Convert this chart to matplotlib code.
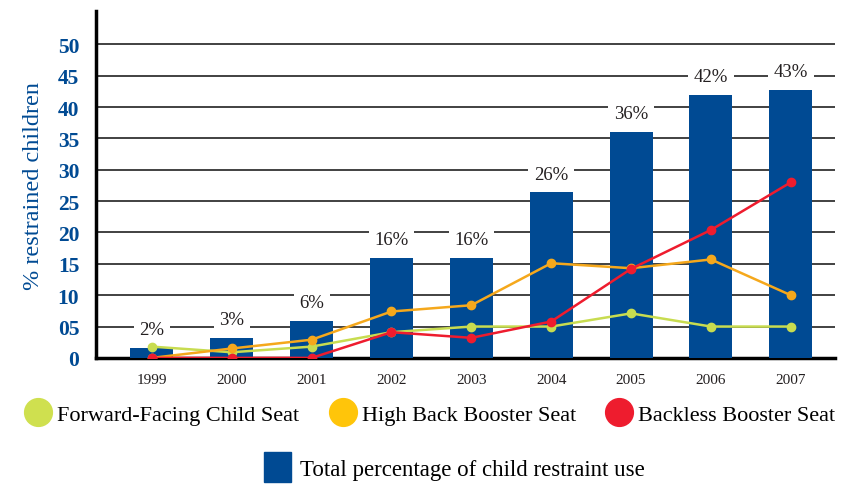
import matplotlib.pyplot as plt
from matplotlib.lines import Line2D
from matplotlib.patches import Patch
import numpy as np

years = ['1999', '2000', '2001', '2002', '2003', '2004', '2005', '2006', '2007']
total = [1.6, 3.2, 5.9, 15.9, 15.9, 26.4, 36.1, 41.9, 42.8]
total_labels = ['2%', '3%', '6%', '16%', '16%', '26%', '36%', '42%', '43%']
forward_facing = [1.8, 0.9, 1.8, 4.1, 5.0, 5.0, 7.1, 5.0, 5.0]
high_back = [0.0, 1.5, 2.9, 7.4, 8.4, 15.1, 14.3, 15.7, 10.0]
backless = [0.0, 0.0, 0.0, 4.1, 3.2, 5.8, 14.2, 20.4, 28.0]
yticks = [0, 5, 10, 15, 20, 25, 30, 35, 40, 45, 50]
ytick_labels = ['0', '05', '10', '15', '20', '25', '30', '35', '40', '45', '50']

blue = '#004a93'
green = '#c8dc50'
orange = '#f5a81c'
red = '#ee1c2e'

plt.rcParams['font.family'] = ['Liberation Serif', 'DejaVu Serif']

fig = plt.figure(figsize=(8.57, 4.85), dpi=100)
ax = fig.add_axes([0.112, 0.26, 0.862, 0.715])

x = np.arange(len(years))
ax.bar(x, total, width=0.54, color=blue, zorder=3)
for xi, v, lab in zip(x, total, total_labels):
    ax.annotate(lab, (xi, v), xytext=(0, 7), textcoords='offset points',
                ha='center', va='bottom', fontsize=13.5, color='#231f20',
                bbox=dict(boxstyle='square,pad=0.3', fc='white', ec='none'), zorder=4)

ax.plot(x, forward_facing, color=green, lw=1.8, marker='o', ms=6, zorder=5)
ax.plot(x, high_back, color=orange, lw=1.8, marker='o', ms=6, zorder=6)
ax.plot(x, backless, color=red, lw=1.8, marker='o', ms=6, zorder=7)

ax.set_xlim(-0.70, 8.55)
ax.set_ylim(0, 55.3)
ax.set_xticks(x)
ax.set_xticklabels(years, fontsize=11, color='#231f20')
ax.set_yticks(yticks)
ax.set_yticklabels(ytick_labels, fontsize=15.5, color=blue, fontweight='bold')
ax.tick_params(length=0, pad=12)
ax.tick_params(axis='x', pad=11)
ax.yaxis.grid(True, color='#333333', lw=1.3, zorder=0)
ax.set_axisbelow(True)
for s in ['top', 'right']:
    ax.spines[s].set_visible(False)
ax.spines['left'].set_linewidth(2.5)
ax.spines['bottom'].set_linewidth(2.5)
ax.set_ylabel('% restrained children', fontsize=17.5, color=blue, labelpad=10)

handles = [Line2D([], [], ls='none', marker='o', ms=20, color=c)
           for c in ['#cfe04f', '#ffc50a', red]]
fig.legend(handles, ['Forward-Facing Child Seat', 'High Back Booster Seat', 'Backless Booster Seat'],
           loc='center', bbox_to_anchor=(0.5, 0.143), ncol=3, frameon=False,
           fontsize=16, handletextpad=0.1, columnspacing=1.2, handlelength=1.5)
fig.legend([Patch(color=blue)], ['Total percentage of child restraint use'],
           loc='center', bbox_to_anchor=(0.53, 0.035), frameon=False,
           fontsize=16.5, handletextpad=0.4, handlelength=1.2, handleheight=1.6)

fig.savefig('out.png', dpi=100)
